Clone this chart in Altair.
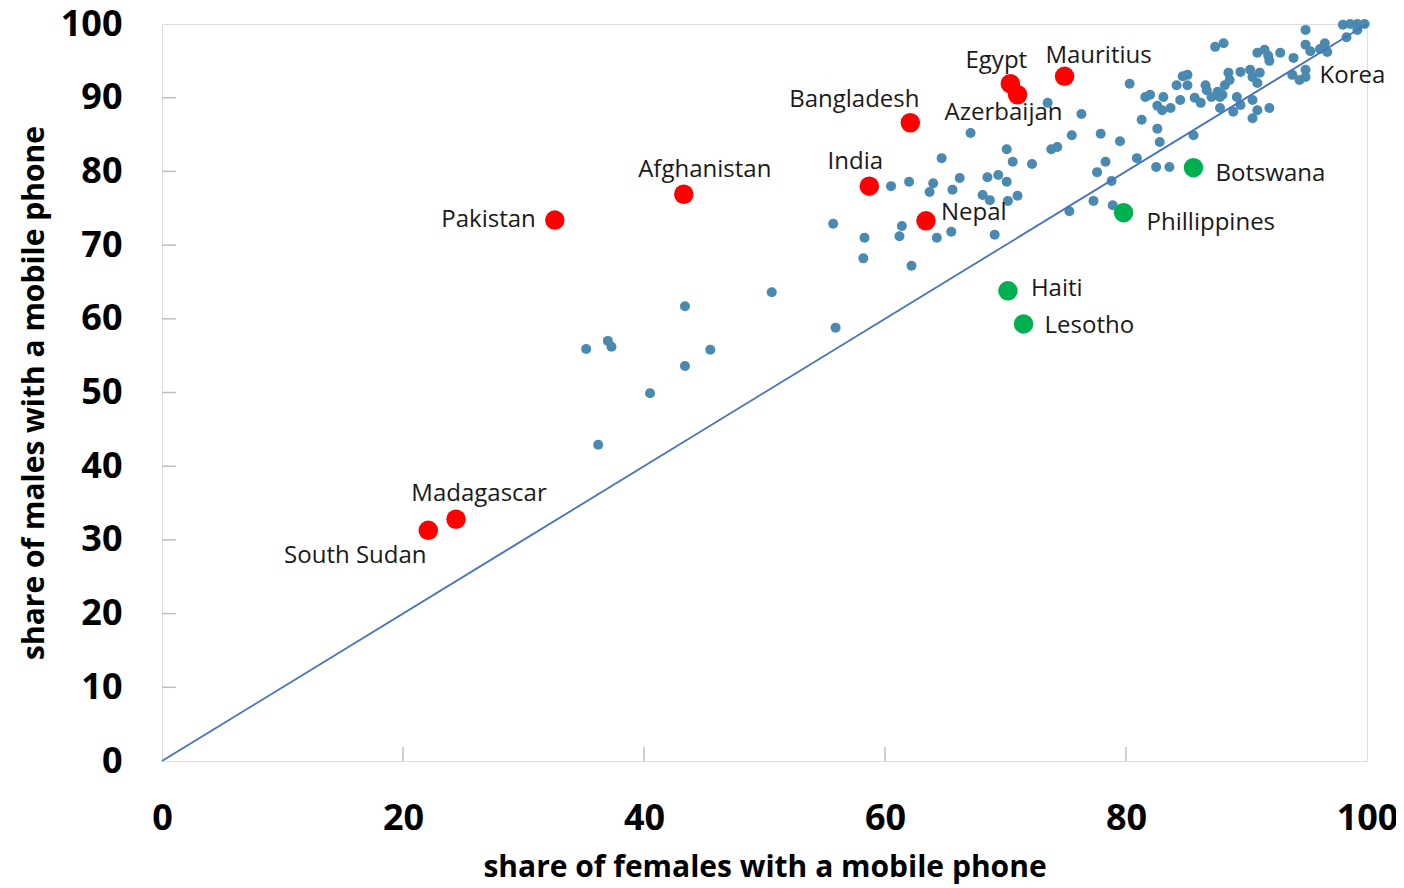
import altair as alt
import pandas as pd

# ---- data ----
blue_x = [35.2, 37.0, 37.3, 36.2, 40.5, 43.4, 43.4, 45.5, 50.6, 55.9, 55.7, 58.3, 58.2, 61.2, 61.4,
          62.2, 64.3, 65.5, 69.1, 60.5, 62.0, 63.7, 64.0, 65.6, 66.2, 64.7, 67.1, 68.1, 68.7, 68.5,
          69.4, 70.1, 70.2, 71.0, 70.1, 70.6, 72.2, 73.8, 74.3, 73.5, 76.3, 75.5, 75.3, 77.3, 78.9,
          77.6, 78.8, 77.9, 78.3, 79.5, 80.3, 80.9, 81.3, 81.6, 82.0, 82.6, 82.8, 82.6, 83.0, 82.5,
          83.6, 83.1, 83.7, 84.5, 84.2, 84.7, 85.1, 85.1, 85.6, 85.7, 86.2, 86.6, 86.7, 87.1, 87.6,
          87.8, 88.0, 87.4, 88.1, 87.8, 88.2, 88.5, 88.6, 88.9, 89.2, 89.5, 89.5, 90.3, 90.5, 91.1,
          90.9, 90.5, 90.9, 90.5, 91.9, 90.9, 91.5, 91.8, 91.9, 92.8, 93.9, 93.8, 94.4, 94.9, 94.9,
          94.9, 94.9, 95.3, 96.1, 96.5, 96.7, 98.0, 98.6, 99.2, 99.8, 98.3, 99.2]
blue_y = [55.9, 57.0, 56.2, 42.9, 49.9, 61.7, 53.6, 55.8, 63.6, 58.8, 72.9, 71.0, 68.2, 71.2, 72.6,
          67.2, 71.0, 71.8, 71.4, 78.0, 78.6, 77.2, 78.4, 77.5, 79.1, 81.8, 85.2, 76.8, 76.1, 79.2,
          79.5, 78.6, 76.0, 76.7, 83.0, 81.3, 81.0, 83.0, 83.3, 89.3, 87.8, 84.9, 74.6, 76.0, 75.4,
          79.9, 78.7, 85.1, 81.3, 84.1, 91.9, 81.8, 87.0, 90.1, 90.4, 85.8, 84.0, 88.9, 88.3, 80.6,
          80.6, 90.1, 88.6, 89.7, 91.7, 92.9, 93.1, 91.7, 84.9, 90.0, 89.3, 91.7, 91.0, 90.1, 90.8,
          90.1, 90.4, 96.9, 97.4, 88.6, 91.7, 93.4, 92.4, 88.1, 90.1, 93.5, 89.0, 93.8, 92.8, 93.4,
          92.0, 89.7, 88.3, 87.2, 88.6, 96.1, 96.5, 95.7, 95.0, 96.1, 95.4, 93.1, 92.4, 93.8, 92.8,
          99.2, 97.2, 96.3, 96.6, 97.4, 96.2, 99.9, 100.0, 100.0, 100.0, 98.2, 99.2]

red_names = ["Egypt", "Azerbaijan", "Mauritius", "Bangladesh", "India", "Afghanistan",
             "Pakistan", "Nepal", "Madagascar", "South Sudan"]
red_x = [70.4, 71.0, 74.9, 62.1, 58.7, 43.3, 32.6, 63.4, 24.4, 22.1]
red_y = [91.9, 90.4, 92.9, 86.6, 78.0, 76.9, 73.4, 73.3, 32.8, 31.3]

green_names = ["Botswana", "Phillippines", "Haiti", "Lesotho"]
green_x = [85.6, 79.8, 70.2, 71.5]
green_y = [80.5, 74.4, 63.8, 59.3]

korea_name = ["Korea"]
korea_x = [94.9]
korea_y = [92.8]

diag_vals = [0, 100]
x_ticks = [0, 20, 40, 60, 80, 100]
y_ticks = [0, 10, 20, 30, 40, 50, 60, 70, 80, 90, 100]

# ---- styling ----
W, H = 1205, 737
FONT = "Open Sans"
GRAY = "#BFBFBF"
label_style = {  # name: (align, dx, dy)
    "Egypt": ("center", -14, -23),
    "Mauritius": ("center", 34, -20),
    "Bangladesh": ("center", -56, -23),
    "Azerbaijan": ("center", -14, 18),
    "India": ("center", -14, -24),
    "Afghanistan": ("center", 21, -24),
    "Pakistan": ("right", -19, 0),
    "Nepal": ("left", 15, -8),
    "Madagascar": ("center", 23, -25),
    "South Sudan": ("center", -73, 26),
    "Korea": ("left", 14, -1),
    "Botswana": ("left", 22, 6),
    "Phillippines": ("left", 23, 10),
    "Haiti": ("left", 23, -2),
    "Lesotho": ("left", 21, 2),
}

blue_df = pd.DataFrame({"x": blue_x, "y": blue_y})
red_df = pd.DataFrame({"name": red_names, "x": red_x, "y": red_y})
green_df = pd.DataFrame({"name": green_names, "x": green_x, "y": green_y})
korea_df = pd.DataFrame({"name": korea_name, "x": korea_x, "y": korea_y})
diag_df = pd.DataFrame({"x": diag_vals, "y": diag_vals})
xt_df = pd.DataFrame({"t": x_ticks[1:-1]})
yt_df = pd.DataFrame({"t": y_ticks[1:-1]})

xs = alt.Scale(domain=[0, 100], nice=False, zero=False)
ys = alt.Scale(domain=[0, 100], nice=False, zero=False)

X = alt.X("x:Q", scale=xs, title="share of females with a mobile phone",
          axis=alt.Axis(values=x_ticks, grid=False, ticks=False, domain=False, labelFlush=False,
                        labelFont=FONT, labelFontSize=36, labelFontWeight="bold",
                        labelColor="black", labelPadding=40,
                        titleFont=FONT, titleFontSize=30, titleFontWeight="bold",
                        titleColor="black", titlePadding=16))
Y = alt.Y("y:Q", scale=ys, title="share of males with a mobile phone",
          axis=alt.Axis(values=y_ticks, grid=False, ticks=False, domain=False, labelFlush=False,
                        labelFont=FONT, labelFontSize=36, labelFontWeight="bold",
                        labelColor="black", labelPadding=40,
                        titleFont=FONT, titleFontSize=30, titleFontWeight="bold",
                        titleColor="black", titlePadding=11))

base_axes = alt.Chart(blue_df).mark_circle(size=100, color="#4A8AB0", opacity=1).encode(x=X, y=Y)

diag = alt.Chart(diag_df).mark_line(color="#4472C4", strokeWidth=1.8).encode(
    x=alt.X("x:Q", scale=xs), y=alt.Y("y:Q", scale=ys))

xticks = alt.Chart(xt_df).mark_rule(color=GRAY, strokeWidth=1.5).encode(
    x=alt.X("t:Q", scale=xs), y=alt.value(H), y2=alt.value(H - 14))
yticks = alt.Chart(yt_df).mark_rule(color=GRAY, strokeWidth=1.5).encode(
    y=alt.Y("t:Q", scale=ys), x=alt.value(0), x2=alt.value(14))

red_pts = alt.Chart(red_df).mark_circle(size=380, color="#FF0000", opacity=1).encode(
    x=alt.X("x:Q", scale=xs), y=alt.Y("y:Q", scale=ys))
green_pts = alt.Chart(green_df).mark_circle(size=380, color="#00B050", opacity=1).encode(
    x=alt.X("x:Q", scale=xs), y=alt.Y("y:Q", scale=ys))

all_lab = pd.concat([red_df, green_df, korea_df], ignore_index=True)
texts = []
for _, r in all_lab.iterrows():
    a, dx, dy = label_style[r["name"]]
    texts.append(
        alt.Chart(pd.DataFrame([r])).mark_text(
            font=FONT, fontSize=24, color="#1A1A1A", align=a, baseline="middle", dx=dx, dy=dy
        ).encode(x=alt.X("x:Q", scale=xs), y=alt.Y("y:Q", scale=ys), text="name:N")
    )

chart = alt.layer(base_axes, diag, xticks, yticks, red_pts, green_pts, *texts).properties(
    width=W, height=H,
    autosize=alt.AutoSizeParams(type="none"),
    padding={"left": 154, "top": 16, "right": 29, "bottom": 127},
).configure_view(stroke=GRAY, strokeWidth=2).configure(background="white")

chart.save("out.html", embed_options={"renderer": "svg", "actions": False})
